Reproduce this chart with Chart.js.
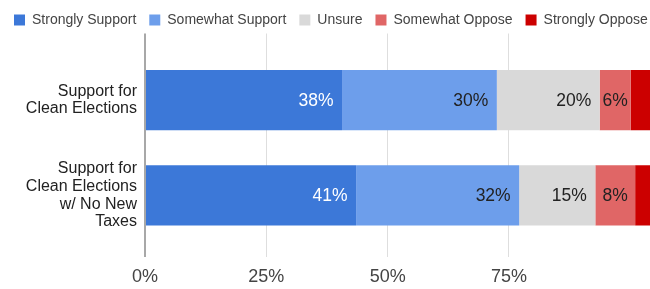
<!DOCTYPE html>
<html>
<head>
<meta charset="utf-8">
<script src="https://cdn.jsdelivr.net/npm/chart.js@4/dist/chart.umd.min.js"></script>
<style>
  html, body { margin: 0; padding: 0; background: #ffffff; }
  canvas { display: block; }
</style>
</head>
<body>
<canvas id="myChart" width="650" height="289"></canvas>
<script>
// categories (multi-line labels)
const categories = [
  ['Support for', 'Clean Elections'],
  ['Support for', 'Clean Elections', 'w/ No New', 'Taxes']
];
const seriesNames = ['Strongly Support', 'Somewhat Support', 'Unsure', 'Somewhat Oppose', 'Strongly Oppose'];

// bar lengths
const stronglySupport = [40.6, 43.5];
const somewhatSupport = [31.9, 33.6];
const unsure = [21.2, 15.7];
const somewhatOppose = [6.4, 8.2];
const stronglyOppose = [6.4, 4.3];

// the percentages printed on the bars
const stronglySupportText = ['38%', '41%'];
const somewhatSupportText = ['30%', '32%'];
const unsureText = ['20%', '15%'];
const somewhatOpposeText = ['6%', '8%'];

const tickValues = [0, 25, 50, 75];

const colors = ['#3c78d8', '#6d9eeb', '#d9d9d9', '#e06666', '#cc0000'];
const textColors = ['#ffffff', '#222222', '#222222', '#222222', '#ffffff'];
// the original is cropped on the right; the legend may run past the edge
const overhang = 25;
const axisMax = 104.06;

const gridColor = (c) => (c.tick && c.tick.value === 0) ? '#a8a8a8' : '#dedede';
const gridWidth = (c) => (c.tick && c.tick.value === 0) ? 2 : 1;
const keepTicks = (scale) => {
  scale.ticks = tickValues.map(v => ({ value: v }));
};

// draws the printed percentages inside each segment
const barText = {
  id: 'barText',
  afterDatasetsDraw(chart) {
    const ctx = chart.ctx;
    ctx.save();
    ctx.font = '17.5px "Liberation Sans", Arial, sans-serif';
    ctx.textBaseline = 'middle';
    ctx.textAlign = 'right';
    chart.data.datasets.forEach((ds, i) => {
      if (!ds.printed) return;
      const meta = chart.getDatasetMeta(i);
      meta.data.forEach((bar, j) => {
        const txt = ds.printed[j];
        if (!txt) return;
        const w = ctx.measureText(txt).width;
        const segW = bar.x - bar.base;
        const pad = Math.min(8.5, (segW - w) / 2);
        ctx.fillStyle = textColors[i];
        ctx.fillText(txt, bar.x - pad, bar.y + 1);
      });
    });
    ctx.restore();
  }
};

const ctx = document.getElementById('myChart');

new Chart(ctx, {
  type: 'bar',
  data: {
    labels: categories,
    datasets: [
      { label: seriesNames[0], data: stronglySupport, printed: stronglySupportText, backgroundColor: colors[0] },
      { label: seriesNames[1], data: somewhatSupport, printed: somewhatSupportText, backgroundColor: colors[1] },
      { label: seriesNames[2], data: unsure, printed: unsureText, backgroundColor: colors[2] },
      { label: seriesNames[3], data: somewhatOppose, printed: somewhatOpposeText, backgroundColor: colors[3] },
      { label: seriesNames[4], data: stronglyOppose, backgroundColor: colors[4] }
    ]
  },
  options: {
    indexAxis: 'y',
    responsive: false,
    animation: false,
    categoryPercentage: 1,
    barPercentage: 0.63,
    layout: { padding: { left: 1, right: -overhang, top: 0, bottom: 0 } },
    plugins: {
      tooltip: { enabled: false },
      legend: {
        position: 'top',
        align: 'start',
        labels: {
          boxWidth: 11,
          boxHeight: 11,
          padding: 13,
          color: '#444444',
          font: { family: '"Liberation Sans", Arial, sans-serif', size: 14 }
        }
      }
    },
    scales: {
      x: {
        stacked: true,
        min: 0,
        max: axisMax,
        afterBuildTicks: keepTicks,
        afterFit: (s) => { s.height = 46; },
        border: { display: false },
        grid: { color: gridColor, lineWidth: gridWidth, tickLength: 14, drawTicks: true },
        ticks: {
          padding: 9,
          color: '#444444',
          font: { family: '"Liberation Sans", Arial, sans-serif', size: 18 },
          callback: (v) => v + '%'
        }
      },
      xTop: {
        type: 'linear',
        position: 'top',
        min: 0,
        max: axisMax,
        afterBuildTicks: keepTicks,
        afterFit: (s) => { s.height = 15.5; },
        border: { display: false },
        grid: { color: gridColor, lineWidth: gridWidth, tickLength: 19, drawTicks: true, drawOnChartArea: false },
        ticks: { display: false }
      },
      y: {
        stacked: true,
        afterFit: (s) => { s.width = 144; },
        border: { display: false },
        grid: { display: false, drawTicks: false },
        ticks: {
          padding: 8,
          color: '#222222',
          font: { family: '"Liberation Sans", Arial, sans-serif', size: 16, lineHeight: 1.1 }
        }
      }
    }
  },
  plugins: [barText]
});
</script>
</body>
</html>
